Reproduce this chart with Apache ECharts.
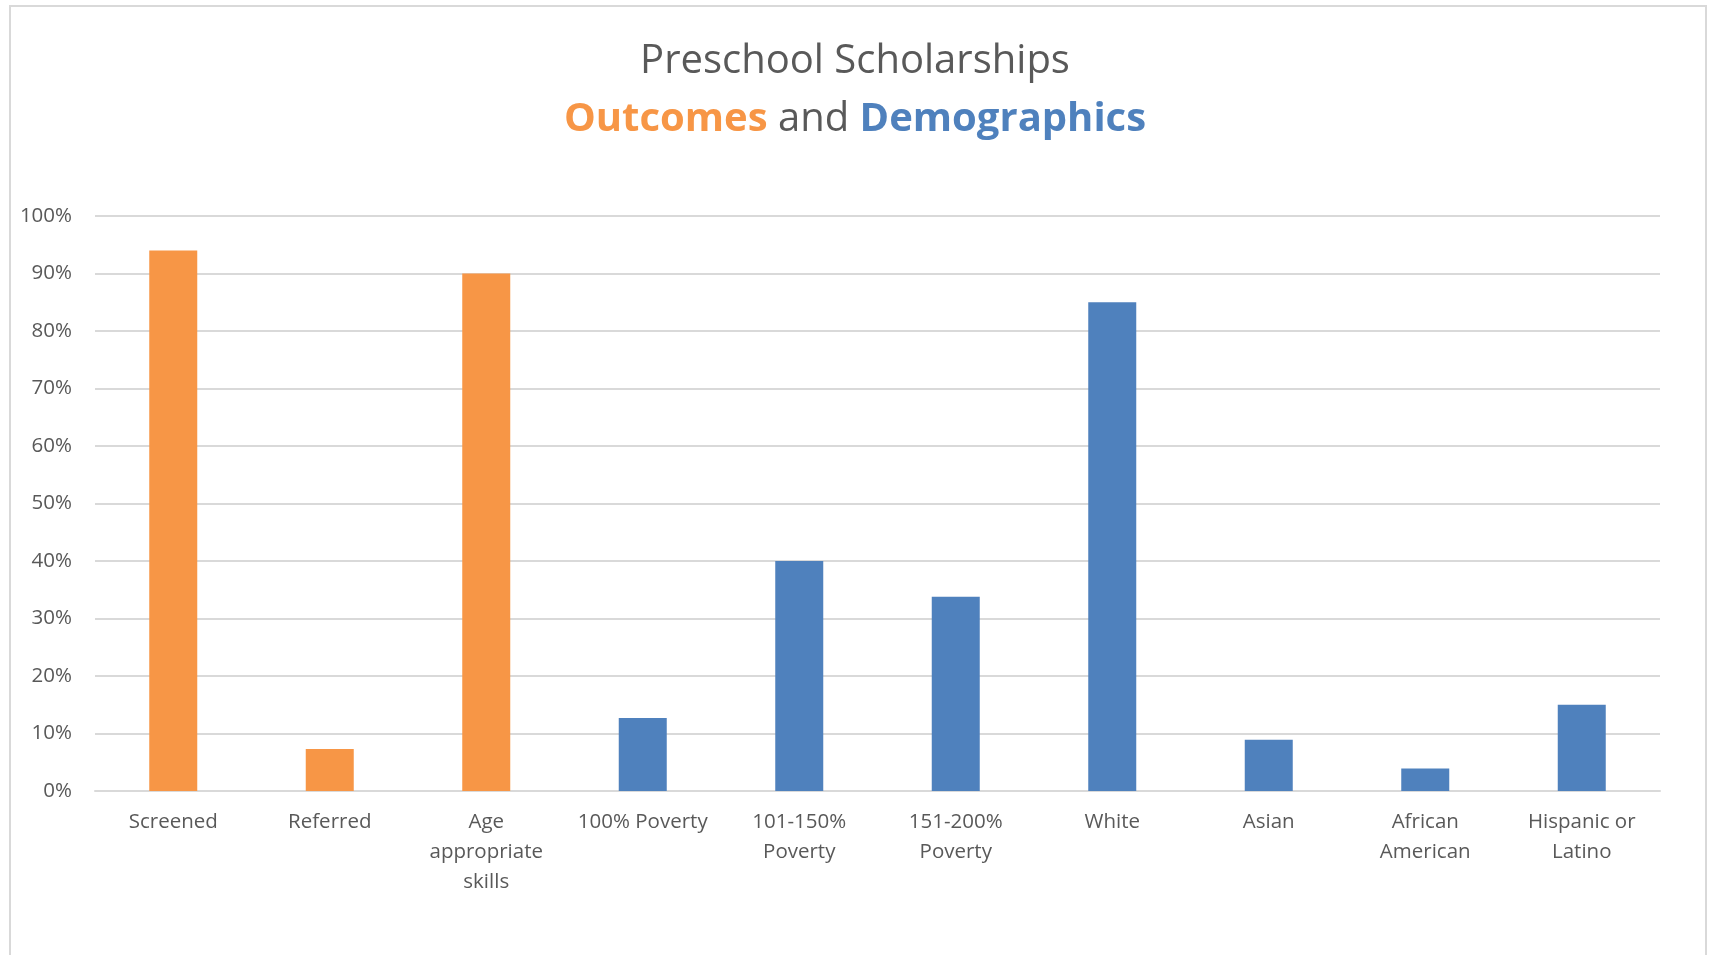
<!DOCTYPE html>
<html>
<head>
<meta charset="utf-8">
<title>Preschool Scholarships</title>
<script src="https://cdn.jsdelivr.net/npm/echarts@6/dist/echarts.min.js"></script>
<style>
  html, body { margin: 0; padding: 0; background: #fff; }
  #chart { width: 1710px; height: 955px; }
</style>
</head>
<body>
<div id="chart"></div>
<script>
// categories and values (percent)
var categories = ['Screened', 'Referred', 'Age\nappropriate\nskills', '100% Poverty',
  '101-150%\nPoverty', '151-200%\nPoverty', 'White', 'Asian', 'African\nAmerican', 'Hispanic or\nLatino'];
var values = [94, 7.3, 90, 12.7, 40, 33.8, 85, 8.9, 3.9, 15];
// which group each bar belongs to
var groups = ['Outcomes', 'Outcomes', 'Outcomes', 'Demographics', 'Demographics',
  'Demographics', 'Demographics', 'Demographics', 'Demographics', 'Demographics'];
var yTicks = [0, 10, 20, 30, 40, 50, 60, 70, 80, 90, 100];

var ORANGE = '#F79646';
var BLUE = '#4F81BD';
var GRAY = '#595959';
var FONT = '"Open Sans", "Noto Sans", sans-serif';

var barData = values.map(function (v, i) {
  return {
    value: v,
    itemStyle: { color: groups[i] == 'Outcomes' ? ORANGE : BLUE }
  };
});

var chart = echarts.init(document.getElementById('chart'));
var option = {
  backgroundColor: '#fff',
  animation: false,
  title: {
    text: '{t|Preschool Scholarships}\n{o|Outcomes}{g| and }{b|Demographics}',
    left: 'center',
    top: 28,
    textStyle: {
      fontWeight: 'normal',
      rich: {
        t: { fontFamily: FONT, fontSize: 40, fontWeight: 'normal', color: GRAY, lineHeight: 58 },
        o: { fontFamily: FONT, fontSize: 40, fontWeight: 'bold', color: ORANGE, lineHeight: 58 },
        g: { fontFamily: FONT, fontSize: 40, fontWeight: 'normal', color: GRAY, lineHeight: 58 },
        b: { fontFamily: FONT, fontSize: 40, fontWeight: 'bold', color: BLUE, lineHeight: 58 }
      }
    }
  },
  graphic: [{
    type: 'rect',
    shape: { x: 10, y: 6, width: 1696, height: 1000 },
    style: { fill: null, stroke: '#d9d9d9', lineWidth: 2 },
    silent: true
  }],
  grid: { left: 95, right: 50, top: 216, bottom: 164 },
  xAxis: {
    type: 'category',
    data: categories,
    axisLine: { lineStyle: { color: '#d9d9d9', width: 2 } },
    axisTick: { show: false },
    axisLabel: {
      color: GRAY,
      fontFamily: FONT,
      fontSize: 20.5,
      lineHeight: 30,
      margin: 16,
      interval: 0
    }
  },
  yAxis: {
    type: 'value',
    min: yTicks[0],
    max: yTicks[yTicks.length - 1],
    interval: 10,
    axisLine: { show: false },
    axisTick: { show: false },
    splitLine: { lineStyle: { color: '#d9d9d9', width: 2 } },
    axisLabel: {
      color: GRAY,
      fontFamily: FONT,
      fontSize: 20.5,
      margin: 23,
      formatter: '{value}%'
    }
  },
  series: [{
    type: 'bar',
    data: barData,
    barWidth: 48
  }]
};
chart.setOption(option);
</script>
</body>
</html>
